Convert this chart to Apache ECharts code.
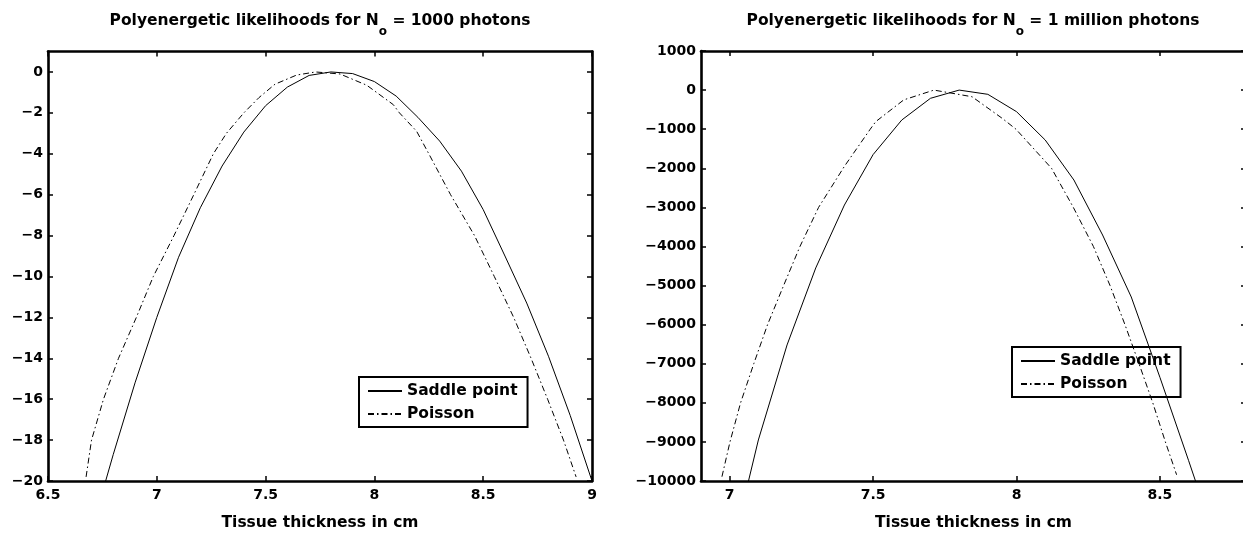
<!DOCTYPE html>
<html>
<head>
<meta charset="utf-8">
<script src="https://cdn.jsdelivr.net/npm/echarts@6/dist/echarts.min.js"></script>
<style>
html, body { margin: 0; padding: 0; background: #fff; }
#chart { width: 1243px; height: 533px; }
</style>
</head>
<body>
<div id="chart"></div>
<script>
// ---------- data ----------
const titleLow = 'Polyenergetic likelihoods for N{s|o} = 1000 photons';
const titleHigh = 'Polyenergetic likelihoods for N{s|o} = 1 million photons';
const xAxisTitle = 'Tissue thickness in cm';
const seriesNames = ['Saddle point', 'Poisson'];

// Left panel (N0 = 1000 photons)
const xTicksLow = [6.5, 7, 7.5, 8, 8.5, 9];
const yTicksLow = [-20, -18, -16, -14, -12, -10, -8, -6, -4, -2, 0];
const saddleLowX = [6.7, 6.8, 6.9, 7.0, 7.1, 7.2, 7.3, 7.4, 7.5, 7.6, 7.7, 7.8,
                    7.9, 8.0, 8.1, 8.2, 8.3, 8.4, 8.5, 8.6, 8.7, 8.8, 8.9, 9.0];
const saddleLowY = [-22.4, -18.7, -15.2, -12.0, -9.06, -6.64, -4.6, -2.94, -1.65, -0.74, -0.17, 0,
                    -0.08, -0.47, -1.18, -2.22, -3.38, -4.85, -6.73, -9.0, -11.3, -13.9, -16.8, -20.0];
const poissonLowX = [6.675, 6.70, 6.755, 6.824, 6.906, 6.984, 7.079, 7.17, 7.26, 7.32, 7.40, 7.47,
                     7.543, 7.643, 7.73, 7.842, 7.965, 8.087, 8.115, 8.194, 8.25, 8.35, 8.46,
                     8.551, 8.64, 8.72, 8.796, 8.869, 8.927];
const poissonLowY = [-19.8, -18.0, -16.0, -14.0, -12.0, -10.0, -8.0, -6.0, -4.0, -3.0, -2.0, -1.25,
                     -0.6, -0.15, 0, -0.1, -0.65, -1.6, -2.0, -2.9, -4.0, -6.0, -8.0,
                     -10.0, -12.0, -14.0, -16.0, -18.0, -19.8];

// Right panel (N0 = 1 million photons)
const xTicksHigh = [7, 7.5, 8, 8.5];
const yTicksHigh = [-10000, -9000, -8000, -7000, -6000, -5000, -4000, -3000, -2000, -1000, 0, 1000];
const saddleHighX = [7.0, 7.1, 7.2, 7.3, 7.4, 7.5, 7.6, 7.7, 7.8, 7.9, 8.0, 8.1, 8.2, 8.3, 8.4, 8.5, 8.6, 8.7];
const saddleHighY = [-12000, -8950, -6520, -4550, -2940, -1650, -765, -210, 0, -108, -552, -1277,
                     -2300, -3707, -5293, -7350, -9480, -11650];
const poissonHighX = [6.973, 7.001, 7.038, 7.084, 7.132, 7.188, 7.245, 7.31, 7.40, 7.49, 7.509, 7.607,
                      7.712, 7.845, 7.95, 7.998, 8.122, 8.198, 8.268, 8.326, 8.378, 8.427, 8.475, 8.519, 8.558];
const poissonHighY = [-9890, -9000, -8000, -7000, -6000, -5000, -4000, -3000, -1950, -1000, -808, -250,
                      0, -170, -722, -1000, -2000, -3000, -4000, -5000, -6000, -7000, -8000, -9000, -9840];

// ---------- helpers ----------
const FONT = 'DejaVu Sans';
const BLACK = '#000';
const pairs = (xs, ys) => xs.map((x, i) => [x, ys[i]]);
const fmt = v => String(v).replace('-', '\u2212');

function xAxes(grid, min, max, ticks) {
  const common = {
    type: 'value', gridIndex: grid, min: min, max: max,
    axisLine: { show: true, onZero: false, lineStyle: { color: BLACK, width: 2.6 } },
    axisTick: { show: true, inside: true, length: 5, customValues: ticks, lineStyle: { color: BLACK, width: 1.5 } },
    splitLine: { show: false }
  };
  return [
    Object.assign({}, common, {
      position: 'bottom',
      name: xAxisTitle, nameLocation: 'middle', nameGap: 34,
      nameTextStyle: { fontFamily: FONT, fontWeight: 'bold', fontSize: 15.5, color: BLACK },
      axisLabel: { show: true, customValues: ticks, formatter: fmt, margin: 7,
                   fontFamily: FONT, fontWeight: 'bold', fontSize: 14, color: BLACK }
    }),
    Object.assign({}, common, { position: 'top', axisLabel: { show: false } })
  ];
}
function yAxes(grid, min, max, ticks) {
  const common = {
    type: 'value', gridIndex: grid, min: min, max: max,
    axisLine: { show: true, onZero: false, lineStyle: { color: BLACK, width: 2.6 } },
    axisTick: { show: true, inside: true, length: 5, customValues: ticks, lineStyle: { color: BLACK, width: 1.5 } },
    splitLine: { show: false }
  };
  return [
    Object.assign({}, common, {
      position: 'left',
      axisLabel: { show: true, customValues: ticks, formatter: fmt, margin: 5,
                   fontFamily: FONT, fontWeight: 'bold', fontSize: 14, color: BLACK }
    }),
    Object.assign({}, common, { position: 'right', axisLabel: { show: false } })
  ];
}
function titleOpt(text, cx) {
  return {
    text: text, left: cx, top: 4, textAlign: 'center', padding: 0,
    textStyle: {
      fontFamily: FONT, fontWeight: 'bold', fontSize: 15.5, color: BLACK,
      rich: { s: { fontFamily: FONT, fontWeight: 'bold', fontSize: 12, color: BLACK, padding: [22, 0, 0, 0] } }
    }
  };
}
function legendOpt(left, top) {
  return {
    data: seriesNames, left: left, top: top, orient: 'vertical',
    itemWidth: 34, itemHeight: 14, itemGap: 7, padding: [6, 10, 5, 8],
    borderColor: BLACK, borderWidth: 2, backgroundColor: 'transparent', borderRadius: 0,
    selectedMode: false,
    itemStyle: { opacity: 0 },
    textStyle: { fontFamily: FONT, fontWeight: 'bold', fontSize: 15.5, color: BLACK }
  };
}
function lineSeries(name, xi, yi, data, dashed) {
  return {
    name: name, type: 'line', xAxisIndex: xi, yAxisIndex: yi, data: data,
    symbol: 'none', showSymbol: false, smooth: false, clip: true,
    lineStyle: { color: BLACK, width: 1, type: dashed ? [6, 3, 1.5, 3] : 'solid' },
    itemStyle: { color: BLACK },
    z: 3
  };
}

const option = {
  backgroundColor: '#fff',
  animation: false,
  title: [titleOpt(titleLow, 320), titleOpt(titleHigh, 973)],
  grid: [
    { left: 48, top: 51.5, width: 544, height: 429.5, containLabel: false, outerBoundsMode: 'none' },
    { left: 701, top: 51, width: 545, height: 430, containLabel: false, outerBoundsMode: 'none' }
  ],
  xAxis: [].concat(xAxes(0, 6.5, 9, xTicksLow), xAxes(1, 6.9, 8.8, xTicksHigh)),
  yAxis: [].concat(yAxes(0, -20, 1, yTicksLow), yAxes(1, -10000, 1000, yTicksHigh)),
  legend: [legendOpt(359, 377), legendOpt(1012, 347)],
  series: [
    lineSeries(seriesNames[0], 0, 0, pairs(saddleLowX, saddleLowY), false),
    lineSeries(seriesNames[1], 0, 0, pairs(poissonLowX, poissonLowY), true),
    lineSeries(seriesNames[0], 2, 2, pairs(saddleHighX, saddleHighY), false),
    lineSeries(seriesNames[1], 2, 2, pairs(poissonHighX, poissonHighY), true)
  ]
};

const chart = echarts.init(document.getElementById('chart'), null, { renderer: 'canvas' });
chart.setOption(option);
</script>
</body>
</html>
